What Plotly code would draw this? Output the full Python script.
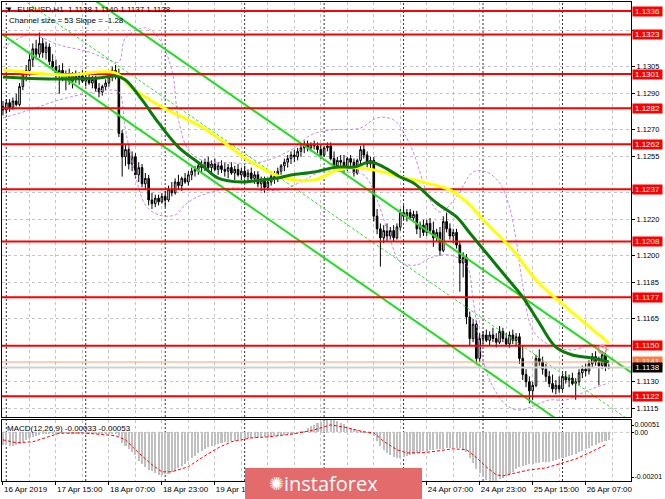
import plotly.graph_objects as go

# ---------------- data ----------------
bar_index = list(range(184))
opens = [1.1283,1.1281,1.1285,1.1282,1.1286,1.1284,1.1294,1.1301,1.1303,1.1309,
         1.1315,1.1312,1.1318,1.1313,1.1316,1.1308,1.1305,1.1300,1.1303,1.1299,
         1.1301,1.1297,1.1300,1.1298,1.1300,1.1297,1.1299,1.1296,1.1298,1.1293,
         1.1291,1.1294,1.1296,1.1300,1.1303,1.1301,1.1268,1.1255,1.1259,1.1251,
         1.1255,1.1245,1.1249,1.1240,1.1243,1.1231,1.1229,1.1232,1.1230,1.1233,
         1.1231,1.1237,1.1235,1.1241,1.1239,1.1243,1.1241,1.1245,1.1247,1.1248,
         1.1250,1.1249,1.1252,1.1249,1.1251,1.1248,1.1250,1.1248,1.1247,1.1249,
         1.1246,1.1248,1.1245,1.1247,1.1244,1.1246,1.1243,1.1245,1.1240,1.1242,
         1.1238,1.1241,1.1244,1.1243,1.1247,1.1250,1.1252,1.1254,1.1256,1.1255,
         1.1258,1.1260,1.1262,1.1260,1.1262,1.1261,1.1259,1.1256,1.1260,1.1261,
         1.1254,1.1250,1.1253,1.1252,1.1249,1.1254,1.1252,1.1246,1.1253,1.1259,
         1.1256,1.1251,1.1253,1.1222,1.1215,1.1210,1.1214,1.1211,1.1214,1.1210,
         1.1216,1.1224,1.1222,1.1224,1.1221,1.1223,1.1215,1.1217,1.1213,1.1218,
         1.1214,1.1210,1.1213,1.1203,1.1219,1.1215,1.1211,1.1213,1.1206,1.1196,
         1.1199,1.1166,1.1154,1.1162,1.1143,1.1154,1.1156,1.1153,1.1156,1.1154,
         1.1152,1.1158,1.1154,1.1151,1.1156,1.1153,1.1155,1.1143,1.1134,1.1130,
         1.1125,1.1128,1.1143,1.1141,1.1137,1.1133,1.1129,1.1126,1.1128,1.1126,
         1.1133,1.1131,1.1132,1.1129,1.1130,1.1135,1.1137,1.1136,1.1140,1.1144,
         1.1141,1.1139,1.1145,1.1138]
highs = [1.1286,1.1287,1.1287,1.1288,1.1290,1.1296,1.1303,1.1306,1.1312,1.1318,
         1.1320,1.1324,1.1321,1.1319,1.1318,1.1312,1.1309,1.1306,1.1307,1.1303,
         1.1304,1.1302,1.1303,1.1302,1.1303,1.1301,1.1302,1.1300,1.1300,1.1296,
         1.1295,1.1298,1.1302,1.1305,1.1306,1.1304,1.1270,1.1262,1.1262,1.1258,
         1.1257,1.1252,1.1251,1.1246,1.1245,1.1235,1.1234,1.1234,1.1235,1.1236,
         1.1239,1.1241,1.1243,1.1245,1.1244,1.1246,1.1247,1.1249,1.1250,1.1252,
         1.1253,1.1254,1.1255,1.1253,1.1254,1.1252,1.1253,1.1252,1.1251,1.1252,
         1.1250,1.1251,1.1249,1.1250,1.1248,1.1249,1.1247,1.1247,1.1244,1.1244,
         1.1243,1.1246,1.1247,1.1249,1.1251,1.1254,1.1256,1.1258,1.1259,1.1260,
         1.1262,1.1264,1.1264,1.1263,1.1264,1.1263,1.1262,1.1261,1.1263,1.1263,
         1.1258,1.1255,1.1256,1.1256,1.1255,1.1256,1.1254,1.1254,1.1261,1.1262,
         1.1258,1.1255,1.1255,1.1226,1.1218,1.1217,1.1218,1.1216,1.1217,1.1218,
         1.1226,1.1228,1.1226,1.1226,1.1225,1.1225,1.1219,1.1220,1.1220,1.1221,
         1.1219,1.1215,1.1216,1.1222,1.1224,1.1218,1.1215,1.1215,1.1208,1.1202,
         1.1201,1.1169,1.1165,1.1164,1.1157,1.1158,1.1159,1.1158,1.1160,1.1157,
         1.1161,1.1160,1.1157,1.1158,1.1159,1.1157,1.1157,1.1150,1.1137,1.1133,
         1.1130,1.1145,1.1148,1.1144,1.1140,1.1136,1.1134,1.1131,1.1133,1.1135,
         1.1136,1.1134,1.1135,1.1132,1.1137,1.1139,1.1140,1.1142,1.1146,1.1147,
         1.1144,1.1147,1.1146,1.1140]
lows = [1.1278,1.1279,1.1280,1.1281,1.1283,1.1283,1.1292,1.1297,1.1300,1.1305,
        1.1309,1.1310,1.1310,1.1309,1.1306,1.1303,1.1298,1.1290,1.1297,1.1292,
        1.1295,1.1293,1.1296,1.1295,1.1296,1.1294,1.1295,1.1293,1.1291,1.1288,
        1.1289,1.1292,1.1294,1.1297,1.1298,1.1266,1.1244,1.1250,1.1248,1.1247,
        1.1243,1.1241,1.1238,1.1237,1.1228,1.1226,1.1227,1.1228,1.1229,1.1227,
        1.1230,1.1233,1.1234,1.1237,1.1236,1.1240,1.1239,1.1242,1.1244,1.1245,
        1.1246,1.1247,1.1247,1.1246,1.1247,1.1245,1.1246,1.1244,1.1243,1.1245,
        1.1242,1.1244,1.1242,1.1243,1.1241,1.1242,1.1240,1.1238,1.1236,1.1235,
        1.1236,1.1239,1.1240,1.1241,1.1245,1.1247,1.1249,1.1251,1.1252,1.1253,
        1.1255,1.1257,1.1258,1.1258,1.1259,1.1257,1.1254,1.1255,1.1258,1.1253,
        1.1248,1.1248,1.1250,1.1246,1.1247,1.1250,1.1244,1.1245,1.1251,1.1254,
        1.1249,1.1248,1.1219,1.1212,1.1194,1.1207,1.1208,1.1209,1.1208,1.1209,
        1.1214,1.1220,1.1219,1.1220,1.1219,1.1212,1.1210,1.1211,1.1211,1.1212,
        1.1205,1.1208,1.1200,1.1202,1.1213,1.1209,1.1207,1.1204,1.1180,1.1188,
        1.1162,1.1150,1.1152,1.1140,1.1141,1.1151,1.1152,1.1150,1.1152,1.1149,
        1.1151,1.1152,1.1150,1.1149,1.1151,1.1150,1.1140,1.1131,1.1127,1.1118,
        1.1120,1.1127,1.1139,1.1134,1.1130,1.1127,1.1124,1.1123,1.1124,1.1125,
        1.1129,1.1127,1.1128,1.1120,1.1128,1.1132,1.1133,1.1134,1.1138,1.1139,
        1.1128,1.1137,1.1136,1.1137]
closes = [1.1281,1.1285,1.1282,1.1286,1.1284,1.1294,1.1301,1.1303,1.1309,1.1315,
          1.1312,1.1318,1.1313,1.1316,1.1308,1.1305,1.1300,1.1303,1.1299,1.1301,
          1.1297,1.1300,1.1298,1.1300,1.1297,1.1299,1.1296,1.1298,1.1293,1.1291,
          1.1294,1.1296,1.1300,1.1303,1.1301,1.1268,1.1255,1.1259,1.1251,1.1255,
          1.1245,1.1249,1.1240,1.1243,1.1231,1.1229,1.1232,1.1230,1.1233,1.1231,
          1.1237,1.1235,1.1241,1.1239,1.1243,1.1241,1.1245,1.1247,1.1248,1.1250,
          1.1249,1.1252,1.1249,1.1251,1.1248,1.1250,1.1248,1.1247,1.1249,1.1246,
          1.1248,1.1245,1.1247,1.1244,1.1246,1.1243,1.1245,1.1240,1.1242,1.1238,
          1.1241,1.1244,1.1243,1.1247,1.1250,1.1252,1.1254,1.1256,1.1255,1.1258,
          1.1260,1.1262,1.1260,1.1262,1.1261,1.1259,1.1256,1.1260,1.1261,1.1254,
          1.1250,1.1253,1.1252,1.1249,1.1254,1.1252,1.1246,1.1253,1.1259,1.1256,
          1.1251,1.1253,1.1222,1.1215,1.1210,1.1214,1.1211,1.1214,1.1210,1.1216,
          1.1224,1.1222,1.1224,1.1221,1.1223,1.1215,1.1217,1.1213,1.1218,1.1214,
          1.1210,1.1213,1.1203,1.1219,1.1215,1.1211,1.1213,1.1206,1.1196,1.1199,
          1.1166,1.1154,1.1162,1.1143,1.1154,1.1156,1.1153,1.1156,1.1154,1.1152,
          1.1158,1.1154,1.1151,1.1156,1.1153,1.1155,1.1143,1.1134,1.1130,1.1125,
          1.1128,1.1143,1.1141,1.1137,1.1133,1.1129,1.1126,1.1128,1.1126,1.1133,
          1.1131,1.1132,1.1129,1.1130,1.1135,1.1137,1.1136,1.1140,1.1144,1.1141,
          1.1139,1.1145,1.1138,1.1138]

ma_yellow_x = [0, 19, 34, 39, 48, 60, 67, 74, 84, 94, 101, 108, 116, 120, 128, 135, 140, 146, 154, 161, 170, 183]
ma_yellow = [1.13032, 1.13004, 1.13016, 1.12932, 1.12827, 1.12716, 1.12627, 1.12532, 1.12438, 1.12421, 1.12477,
             1.12488, 1.12460, 1.12438, 1.12404, 1.12366, 1.12299, 1.12182, 1.12032, 1.11866, 1.11716, 1.11516]
ma_green_x = [0, 14, 29, 34, 37, 42, 47, 53, 60, 65, 72, 78, 83, 87, 94, 101, 106, 111, 115, 120, 124, 131,
              137, 141, 146, 152, 157, 162, 167, 172, 178, 183]
ma_green = [1.12993, 1.12982, 1.12988, 1.12999, 1.12977, 1.12866, 1.12738, 1.12604, 1.12504, 1.12432, 1.12410,
            1.12421, 1.12432, 1.12449, 1.12466, 1.12493, 1.12493, 1.12521, 1.12493, 1.12438, 1.12404, 1.12293,
            1.12216, 1.12127, 1.12016, 1.11882, 1.11771, 1.11627, 1.11493, 1.11449, 1.11432, 1.11410]

bb_upper_x = [0, 8, 17, 26, 32, 35, 37, 43, 47, 51, 53, 56, 60, 69, 78, 87, 93, 99, 108, 113, 118, 123, 129,
              132, 137, 142, 146, 150, 153, 155, 157, 160, 165, 172, 178, 183]
bb_upper = [1.13154, 1.13227, 1.13171, 1.13132, 1.13088, 1.13077, 1.13210, 1.13266, 1.13210, 1.13032, 1.12755,
            1.12588, 1.12532, 1.12516, 1.12521, 1.12588, 1.12671, 1.12699, 1.12710, 1.12766, 1.12755, 1.12616,
            1.12310, 1.12243, 1.12327, 1.12466, 1.12466, 1.12405, 1.12271, 1.12088, 1.11838, 1.11588, 1.11505,
            1.11477, 1.11505, 1.11477]
bb_lower_x = [0, 8, 17, 26, 32, 35, 37, 40, 43, 47, 52, 55, 58, 63, 69, 78, 84, 90, 96, 103, 109, 113, 117,
              120, 125, 129, 135, 140, 142, 144, 147, 152, 156, 161, 165, 170, 177, 183]
bb_lower = [1.12766, 1.12810, 1.12866, 1.12905, 1.12921, 1.12910, 1.12699, 1.12449, 1.12282, 1.12227, 1.12227,
            1.12282, 1.12321, 1.12354, 1.12377, 1.12366, 1.12366, 1.12410, 1.12466, 1.12466, 1.12449, 1.12310,
            1.12088, 1.11966, 1.11949, 1.11988, 1.12004, 1.11949, 1.11755, 1.11505, 1.11310, 1.11171, 1.11143,
            1.11171, 1.11199, 1.11199, 1.11255, 1.11293]

chan_x = [0, 190]
chan_upper = [1.13773, 1.11349]
chan_lower = [1.13227, 1.10802]
chan_mid = [1.13500, 1.11076]

levels = [1.1336, 1.1323, 1.1301, 1.1282, 1.1262, 1.1237, 1.1208, 1.1177, 1.1150, 1.1122]
ask_price = 1.1141
bid_price = 1.1138
alert_x = [181]
alert_y = [1.1148]

price_ticks = [1.1325, 1.1305, 1.1290, 1.1270, 1.1255, 1.1235, 1.1220, 1.1200, 1.1185, 1.1165, 1.1130, 1.1115]
price_tick_labels = ["", "1.1305", "1.1290", "1.1270", "1.1255", "", "1.1220", "1.1200", "1.1185", "1.1165",
                     "1.1130", "1.1115"]
time_tick_idx = [0, 16, 32, 48, 64, 80, 96, 112, 128, 144, 160, 176]
time_tick_labels = ["16 Apr 2019", "17 Apr 15:00", "18 Apr 07:00", "18 Apr 23:00", "19 Apr 15:00",
                    "", "", "", "24 Apr 07:00", "24 Apr 23:00", "25 Apr 15:00", "26 Apr 07:00"]
day_starts = [1, 25, 49, 73, 97, 121, 145, 169]

macd_hist = [-0.00052,-0.00054,-0.00055,-0.00055,-0.00054,-0.00048,-0.00040,-0.00031,-0.00023,-0.00018,
             -0.00014,-0.00010,-0.00008,-0.00006,-0.00005,-0.00004,-0.00003,-0.00003,-0.00002,-0.00002,
             -0.00003,-0.00003,-0.00003,-0.00004,-0.00004,-0.00004,-0.00005,-0.00005,-0.00005,-0.00006,
             -0.00007,-0.00007,-0.00006,-0.00005,-0.00005,-0.00014,-0.00043,-0.00056,-0.00068,-0.00080,
             -0.00093,-0.00118,-0.00130,-0.00143,-0.00155,-0.00161,-0.00169,-0.00175,-0.00175,-0.00173,
             -0.00171,-0.00165,-0.00159,-0.00147,-0.00138,-0.00130,-0.00118,-0.00105,-0.00097,-0.00085,
             -0.00076,-0.00068,-0.00060,-0.00056,-0.00052,-0.00047,-0.00043,-0.00039,-0.00039,-0.00035,
             -0.00035,-0.00031,-0.00029,-0.00027,-0.00025,-0.00023,-0.00023,-0.00021,-0.00021,-0.00021,
             -0.00019,-0.00019,-0.00017,-0.00014,-0.00012,-0.00010,-0.00008,-0.00006,-0.00004,-0.00002,
             0.00002,0.00006,0.00018,0.00026,0.00032,0.00038,0.00042,0.00046,0.00049,0.00051,
             0.00049,0.00045,0.00040,0.00034,0.00027,0.00020,0.00012,0.00008,0.00005,0.00002,
             -0.00002,-0.00004,-0.00014,-0.00035,-0.00056,-0.00072,-0.00085,-0.00093,-0.00101,-0.00105,
             -0.00105,-0.00101,-0.00097,-0.00093,-0.00089,-0.00085,-0.00081,-0.00078,-0.00076,-0.00072,
             -0.00072,-0.00070,-0.00068,-0.00068,-0.00066,-0.00066,-0.00064,-0.00064,-0.00066,-0.00068,
             -0.00081,-0.00105,-0.00126,-0.00151,-0.00168,-0.00185,-0.00195,-0.00200,-0.00201,-0.00199,
             -0.00194,-0.00187,-0.00178,-0.00170,-0.00162,-0.00153,-0.00144,-0.00139,-0.00135,-0.00132,
             -0.00130,-0.00128,-0.00126,-0.00124,-0.00122,-0.00122,-0.00118,-0.00116,-0.00112,-0.00107,
             -0.00103,-0.00097,-0.00093,-0.00089,-0.00083,-0.00076,-0.00070,-0.00064,-0.00058,-0.00052,
             -0.00045,-0.00039,-0.00035,-0.00033]
signal_x = [0, 4, 9, 14, 17, 24, 29, 34, 37, 41, 45, 48, 51, 56, 60, 65, 69, 75, 80, 88, 94, 99, 104, 109,
            112, 115, 119, 122, 125, 129, 136, 140, 143, 146, 149, 151, 155, 159, 164, 169, 173, 177, 182]
signal = [-0.00031, -0.00043, -0.00039, -0.00019, -0.00004, -0.00002, -0.00008, -0.00014, -0.00031, -0.00085,
          -0.00134, -0.00163, -0.00163, -0.00142, -0.00105, -0.00064, -0.00039, -0.00023, -0.00019, -0.00006,
          0.00010, 0.00031, 0.00019, 0.00002, -0.00002, -0.00037, -0.00072, -0.00085, -0.00085, -0.00081,
          -0.00068, -0.00072, -0.00104, -0.00143, -0.00175, -0.00180, -0.00167, -0.00155, -0.00147, -0.00126,
          -0.00110, -0.00085, -0.00052]
macd_max = 0.00051
macd_min = -0.00201

# ---------------- geometry ----------------
W, H = 665, 499
ML, MR, MT, MB = 2, 34, 2, 18
plot_h = H - MT - MB
main_bottom_px = 417
macd_top_px = 420
main_dom = [(H - MB - main_bottom_px) / plot_h, 1.0]
macd_dom = [0.0, (H - MB - macd_top_px) / plot_h]
x_range = [-0.3, 189.7]
y_range = [1.111044, 1.1341]
FONT = "Liberation Sans"


def px_x(p):
    return (p - ML) / (W - ML - MR)


def px_y(p):
    return (H - MB - p) / plot_h


fig = go.Figure()

# Bollinger-type envelope
fig.add_trace(go.Scatter(x=bb_upper_x, y=bb_upper, mode="lines", line=dict(color="#c78ae8", width=1, dash="3px,2px", shape="spline"), xaxis="x", yaxis="y"))
fig.add_trace(go.Scatter(x=bb_lower_x, y=bb_lower, mode="lines", line=dict(color="#c78ae8", width=1, dash="3px,2px", shape="spline"), xaxis="x", yaxis="y"))

# channel
fig.add_trace(go.Scatter(x=chan_x, y=chan_mid, mode="lines", line=dict(color="#33dd33", width=1, dash="3px,2px"), xaxis="x", yaxis="y"))
fig.add_trace(go.Scatter(x=chan_x, y=chan_upper, mode="lines", line=dict(color="#22dd22", width=2), xaxis="x", yaxis="y"))
fig.add_trace(go.Scatter(x=chan_x, y=chan_lower, mode="lines", line=dict(color="#22dd22", width=2), xaxis="x", yaxis="y"))

# support / resistance levels
for lv in levels:
    fig.add_trace(go.Scatter(x=x_range, y=[lv, lv], mode="lines", line=dict(color="#ff0000", width=2), xaxis="x", yaxis="y"))
fig.add_trace(go.Scatter(x=x_range, y=[bid_price, bid_price], mode="lines", line=dict(color="#cfcfcf", width=2), xaxis="x", yaxis="y"))
fig.add_trace(go.Scatter(x=x_range, y=[ask_price, ask_price], mode="lines", line=dict(color="#ff9a70", width=1), xaxis="x", yaxis="y"))

# moving averages
fig.add_trace(go.Scatter(x=ma_yellow_x, y=ma_yellow, mode="lines", line=dict(color="#ffff00", width=3, shape="spline"), xaxis="x", yaxis="y"))
fig.add_trace(go.Scatter(x=ma_green_x, y=ma_green, mode="lines", line=dict(color="#0a7a0a", width=3, shape="spline"), xaxis="x", yaxis="y"))

# candles
fig.add_trace(go.Candlestick(x=bar_index, open=opens, high=highs, low=lows, close=closes,
                             increasing=dict(line=dict(color="#000000", width=1), fillcolor="#ffffff"),
                             decreasing=dict(line=dict(color="#000000", width=1), fillcolor="#000000"),
                             whiskerwidth=0, xaxis="x", yaxis="y", hoverinfo="skip"))
fig.add_trace(go.Scatter(x=alert_x, y=alert_y, mode="markers",
                         marker=dict(symbol="circle-open", size=8, color="#f08080", line=dict(width=1.5)),
                         xaxis="x", yaxis="y"))

# MACD
fig.add_trace(go.Bar(x=bar_index, y=macd_hist, marker=dict(color="#c0c0c0", line=dict(width=0)), width=0.62, xaxis="x2", yaxis="y2"))
fig.add_trace(go.Scatter(x=signal_x, y=signal, mode="lines", line=dict(color="#ff0000", width=1, dash="3px,2px"), xaxis="x2", yaxis="y2"))

grid = dict(gridcolor="#c4c4c4", griddash="3px,3px", gridwidth=1)
axis_line = dict(showline=True, linecolor="#000000", linewidth=1, mirror=True)
px_unit = (macd_max - macd_min) / (481 - macd_top_px)

fig.update_layout(
    width=W, height=H, margin=dict(l=ML, r=MR, t=MT, b=MB, autoexpand=False),
    paper_bgcolor="#ffffff", plot_bgcolor="#ffffff",
    showlegend=False, hovermode=False, bargap=0,
    font=dict(family=FONT, size=8, color="#000000"),
    xaxis=dict(domain=[0, 1], anchor="y", range=x_range, showticklabels=False, ticks="",
               tickmode="linear", tick0=0, dtick=8, showgrid=True, zeroline=False, automargin=False,
               rangeslider=dict(visible=False), **grid, **axis_line),
    yaxis=dict(domain=main_dom, anchor="x", side="right", range=y_range, tickmode="array",
               tickvals=price_ticks, ticktext=price_tick_labels, ticks="outside", automargin=False,
               ticklen=3, tickcolor="#000000", showgrid=True, zeroline=False,
               tickfont=dict(family=FONT, size=7.5, color="#000000"), **grid, **axis_line),
    xaxis2=dict(domain=[0, 1], anchor="y2", range=x_range, matches="x", tickmode="array",
                tickvals=time_tick_idx, ticktext=time_tick_labels, ticks="outside", ticklen=3,
                tickangle=0, automargin=False,
                tickcolor="#000000", ticklabelposition="outside right", showgrid=True, zeroline=False,
                minor=dict(tickmode="linear", tick0=0, dtick=8, showgrid=True, gridcolor="#c4c4c4",
                           griddash="3px,3px", ticks=""),
                tickfont=dict(family=FONT, size=8, color="#000000"), **grid, **axis_line),
    yaxis2=dict(domain=macd_dom, anchor="x2", side="right", range=[macd_min, macd_max],
                tickmode="array", tickvals=[macd_max - 5 * px_unit, 0, macd_min + 4 * px_unit],
                ticktext=["0.00051", "0.00", "-0.00201"], ticks="outside", ticklen=2, automargin=False,
                ticklabelstandoff=-1, tickcolor="#000000", showgrid=False, zeroline=False,
                tickfont=dict(family=FONT, size=7, color="#000000"), **axis_line),
)

shapes = []
# zero line of MACD
shapes.append(dict(type="line", xref="x2 domain", yref="y2", x0=0, x1=1, y0=0, y1=0,
                   line=dict(color="#c4c4c4", width=1, dash="3px,3px"), layer="below"))
# period separators
for d in day_starts:
    for yr in ("y domain", "y2 domain"):
        shapes.append(dict(type="line", xref="x", yref=yr, x0=d, x1=d, y0=0, y1=1,
                           line=dict(color="#303030", width=1, dash="2px,2px"), layer="below"))
# logo
shapes.append(dict(type="rect", xref="paper", yref="paper", x0=px_x(245), x1=px_x(422), y0=px_y(499), y1=px_y(468),
                   fillcolor="#e46b6b", line=dict(width=0), layer="above"))
fig.update_layout(shapes=shapes)

ann = []
for lv in levels:
    ann.append(dict(x=1, xref="paper", xanchor="left", xshift=1, y=lv, yref="y", yanchor="middle",
                    text=f"{lv:.4f}", showarrow=False, bgcolor="#ff0000", width=29, height=9, borderpad=0,
                    font=dict(family=FONT, size=8, color="#ffffff")))
ann.append(dict(x=1, xref="paper", xanchor="left", xshift=1, y=ask_price, yref="y", yanchor="middle",
                text=f"{ask_price:.4f}", showarrow=False, bgcolor="#ff7a45", width=29, height=9, borderpad=0,
                font=dict(family=FONT, size=8, color="#ffffff")))
ann.append(dict(x=1, xref="paper", xanchor="left", xshift=1, y=bid_price, yref="y", yanchor="middle",
                text=f"{bid_price:.4f}", showarrow=False, bgcolor="#000000", width=29, height=9, borderpad=0,
                font=dict(family=FONT, size=8, color="#ffffff")))
ann.append(dict(x=px_x(3), xref="paper", xanchor="left", y=px_y(10), yref="paper", yanchor="middle",
                text="▼\u00a0\u00a0EURUSD,H1\u00a0\u00a01.1138 1.1140 1.1137 1.1138", showarrow=False,
                font=dict(family=FONT, size=8, color="#000000")))
ann.append(dict(x=px_x(7), xref="paper", xanchor="left", y=px_y(20), yref="paper", yanchor="middle",
                text="Channel size = 53 Slope = -1.28", showarrow=False,
                font=dict(family=FONT, size=8, color="#000000")))
ann.append(dict(x=px_x(5), xref="paper", xanchor="left", y=px_y(428), yref="paper", yanchor="middle",
                text="MACD(12,26,9) -0.00033 -0.00053", showarrow=False,
                font=dict(family=FONT, size=8, color="#000000")))
ann.append(dict(x=px_x(331), xref="paper", xanchor="center", y=px_y(483), yref="paper", yanchor="middle",
                text="instaforex", showarrow=False, font=dict(family="Open Sans", size=20, color="#ffffff")))
ann.append(dict(x=px_x(276), xref="paper", xanchor="center", y=px_y(483), yref="paper", yanchor="middle",
                text="✺", showarrow=False, font=dict(family="DejaVu Sans", size=18, color="#ffffff")))
fig.update_layout(annotations=ann)

fig.write_html("out.html", config={"displayModeBar": False},
               post_script="document.body.style.margin='0px';document.body.style.overflow='hidden';")
